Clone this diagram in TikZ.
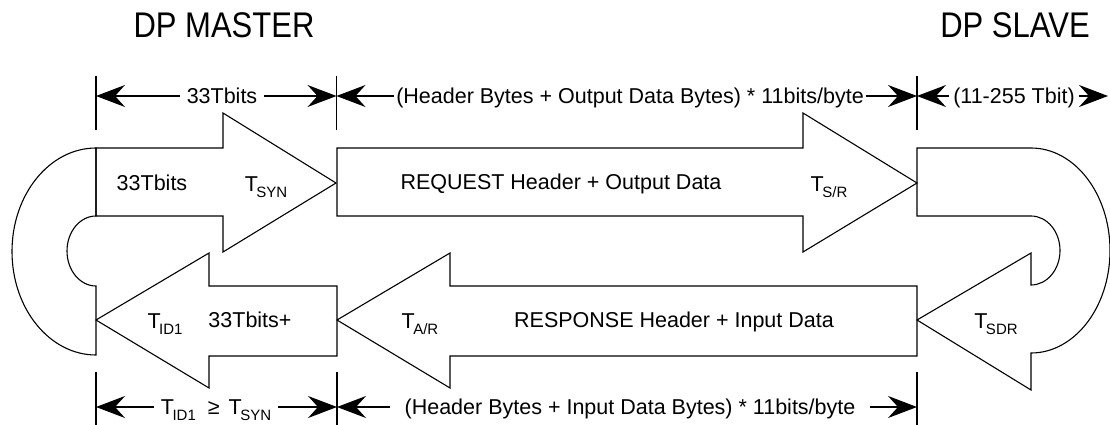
\documentclass[tikz,border=0pt]{standalone}
\usepackage{fontspec}
\setmainfont{Liberation Sans}
\usetikzlibrary{arrows.meta}

% T with a lowered, smaller index
\newcommand\Tsub[1]{T\kern-1.5pt\raisebox{-6pt}{\fontsize{15}{15}\selectfont #1}}

\begin{document}
\begin{tikzpicture}[x=1pt,y=-1pt,
  frame/.style={line width=1.1pt, line join=miter},
  dimline/.style={line width=1.2pt, -{Stealth[length=29pt,width=22pt,inset=10pt]}},
  tickline/.style={line width=1.1pt},
  lbl/.style={font=\fontsize{21.5}{24}\selectfont, inner sep=0pt, text height=15.5pt, text depth=0pt},
  dimlbl/.style={lbl, inner xsep=7pt},
  heading/.style={font=\fontsize{31}{34}\selectfont, inner sep=0pt, text height=25pt, text depth=0pt}]
\useasboundingbox (0,0) rectangle (1110,425);

% ---- headings
\node[heading] (master) at (224,25.5) {\scalebox{1}[1.15]{DP MASTER}};
\node[heading] (slave)  at (1015,25.5) {\scalebox{1}[1.15]{DP SLAVE}};

% ---- upper row: SYN pause and request frame
\draw[frame] (96,148) -- (223,148) -- (223,113) -- (336,183) -- (223,252)
  -- (223,216) -- (96,216) -- cycle;
\draw[frame] (337,148) -- (803,148) -- (803,113) -- (917,183) -- (803,252)
  -- (803,216) -- (337,216) -- cycle;

% ---- slave turn-around with SDR head
\draw[frame] (917,148) -- (1031,148)
  arc[start angle=90, end angle=-90, x radius=79pt, y radius=102.5pt]
  -- (1031,390) -- (917,320) -- (1031,253) -- (1031,285)
  arc[start angle=-90, end angle=90, x radius=29pt, y radius=34.5pt]
  -- (917,216) -- cycle;

% ---- lower row: response frame and idle time
\draw[frame] (917,286) -- (450,286) -- (450,253) -- (337,320) -- (450,388)
  -- (450,356) -- (917,356) -- cycle;
\draw[frame] (337,286) -- (209,286) -- (209,253) -- (96,320) -- (209,388)
  -- (209,356) -- (337,356) -- cycle;

% ---- master turn-around
\draw[frame] (96,148)
  arc[start angle=90, end angle=270, x radius=84pt, y radius=103.5pt]
  -- (96,286)
  arc[start angle=270, end angle=90, x radius=29pt, y radius=35pt]
  -- cycle;

% ---- texts inside the frames
\node[lbl] (syn33)  at (152,183) {33Tbits};
\node[lbl] (tsyn)   at (266,184) {\Tsub{SYN}};
\node[lbl] (req)    at (561,182) {REQUEST Header + Output Data};
\node[lbl] (tsr)    at (829,184) {\Tsub{S/R}};
\node[lbl] (tid)    at (165,321) {\Tsub{ID1}};
\node[lbl] (idle33) at (250,320) {33Tbits+};
\node[lbl] (tar)    at (420,321) {\Tsub{A/R}};
\node[lbl] (resp)   at (674,320) {RESPONSE Header + Input Data};
\node[lbl] (tsdr)   at (996,321) {\Tsub{SDR}};

% ---- dimension ticks
\draw[tickline] (96,76) -- (96,130);
\draw[tickline] (336.5,76) -- (336.5,130);
\draw[tickline] (917,76) -- (917,130);
\draw[tickline] (96,372) -- (96,425);
\draw[tickline] (337,372) -- (337,425);
\draw[tickline] (917,372) -- (917,425);

\coordinate (ta) at (96,96);
\coordinate (tb) at (336.5,96);
\coordinate (tc) at (917,96);
\coordinate (td) at (1108,96);
\coordinate (ba) at (96,407);
\coordinate (bb) at (337,407);
\coordinate (bc) at (917,407);

% ---- upper dimensions
\node[dimlbl] (d33) at (222,96) {33Tbits};
\node[dimlbl, inner xsep=2pt] (dout) at (630,96) {(Header Bytes + Output Data Bytes) * 11bits/byte};
\node[dimlbl, inner xsep=4pt] (d11) at (1014,96) {(11-255 Tbit)};
\draw[dimline] (d33.west) -- (ta);
\draw[dimline] (d33.east) -- (tb);
\draw[dimline] (dout.west) -- (tb);
\draw[dimline] (dout.east) -- (tc);
\draw[dimline] (d11.west) -- (tc);
\draw[dimline] (d11.east) -- (td);

% ---- lower dimensions
\node[dimlbl] (did) at (216,407) {\Tsub{ID1}\hspace{12pt}≥\hspace{9pt}\Tsub{SYN}};
\node[dimlbl, inner xsep=14pt] (din) at (630,407) {(Header Bytes + Input Data Bytes) * 11bits/byte};
\draw[dimline] (did.west) -- (ba);
\draw[dimline] (did.east) -- (bb);
\draw[dimline] (din.west) -- (bb);
\draw[dimline] (din.east) -- (bc);
\end{tikzpicture}
\end{document}
